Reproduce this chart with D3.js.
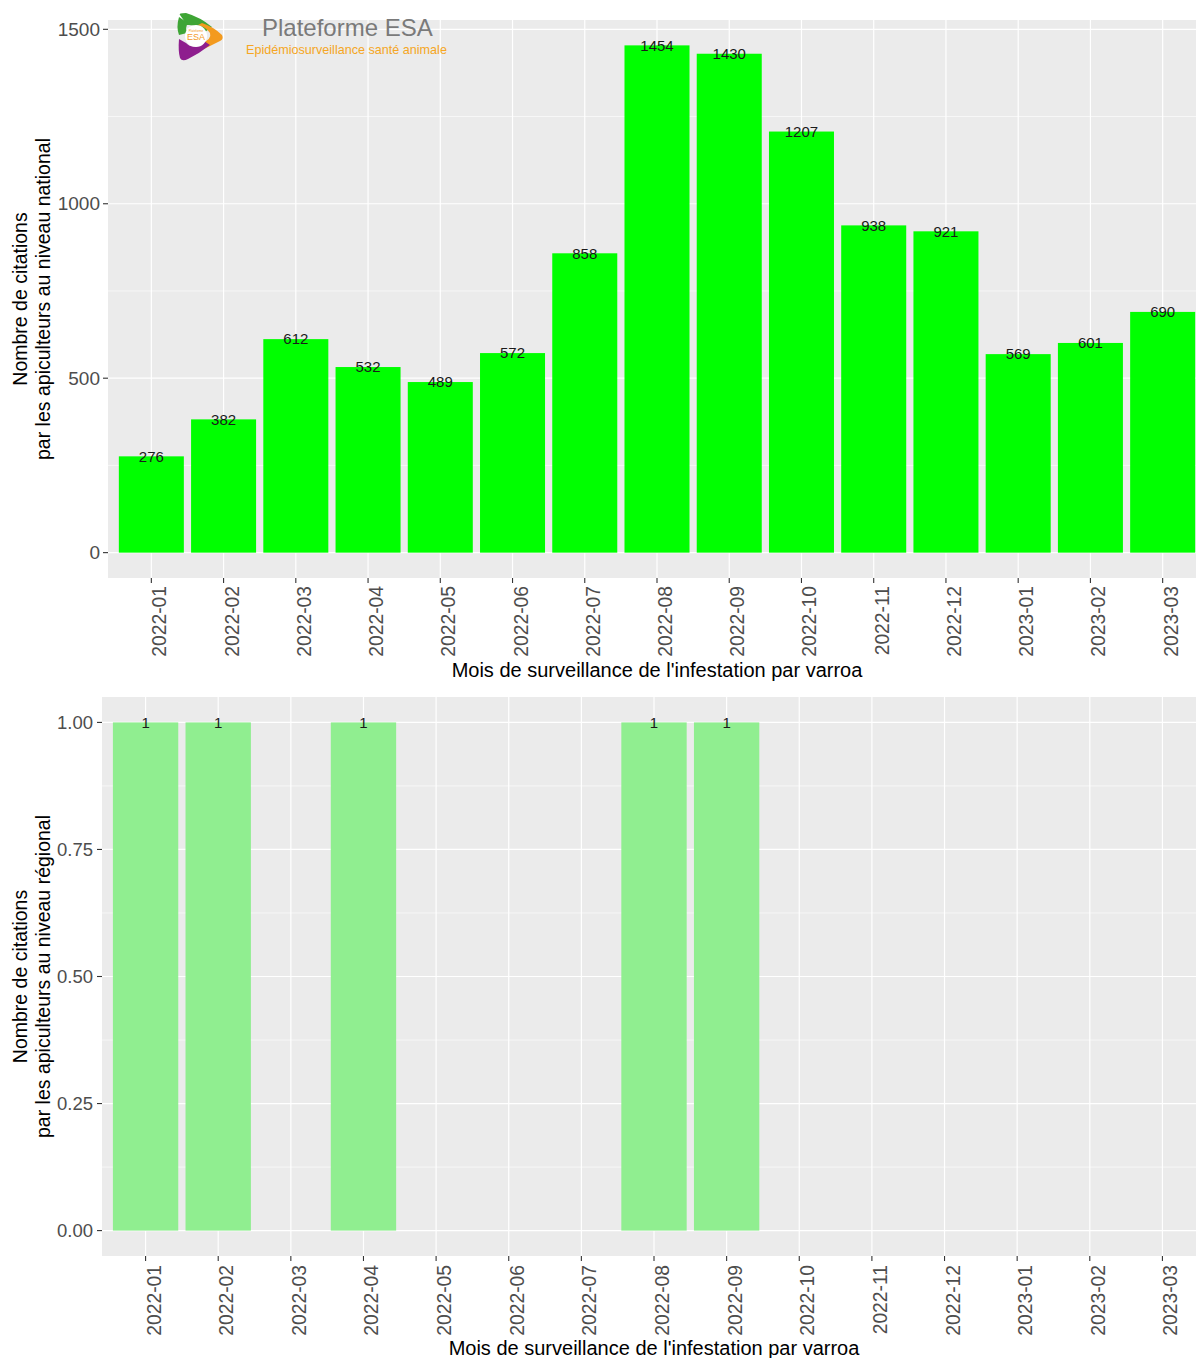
<!DOCTYPE html>
<html>
<head>
<meta charset="utf-8">
<script src="https://cdn.jsdelivr.net/npm/d3@7/dist/d3.min.js"></script>
<style>
  html, body { margin: 0; padding: 0; background: #fff; }
  svg { display: block; }
  text { font-family: "Liberation Sans", Arial, Helvetica, sans-serif; }
</style>
</head>
<body>
<svg id="chart" width="1196" height="1358"></svg>
<script>
// ---- Data ----
const months = ["2022-01","2022-02","2022-03","2022-04","2022-05","2022-06","2022-07","2022-08","2022-09","2022-10","2022-11","2022-12","2023-01","2023-02","2023-03"];
const nationalValues = [276, 382, 612, 532, 489, 572, 858, 1454, 1430, 1207, 938, 921, 569, 601, 690];
const regionalMonths = ["2022-01","2022-02","2022-04","2022-08","2022-09"];
const regionalValues = [1, 1, 1, 1, 1];
const nationalTicks = [0, 500, 1000, 1500];
const nationalMinor = [250, 750, 1250];
const regionalTicks = [0, 0.25, 0.5, 0.75, 1];
const regionalMinor = [0.125, 0.375, 0.625, 0.875];
const xTitle = "Mois de surveillance de l'infestation par varroa";
const yTitleNational = ["Nombre de citations", "par les apiculteurs au niveau national"];
const yTitleRegional = ["Nombre de citations", "par les apiculteurs au niveau régional"];

const svg = d3.select("#chart");

function panel(opts) {
  const {left, right, top, bottom, data, domainMax, ticks, minor, fmt, color, yTitle, xTitleY, tickLabelOffset, yLabelGap, yLabelSize} = opts;
  const g = svg.append("g");
  const x = d3.scalePoint().domain(months).range([left, right]).padding(0.6);
  const step = x.step();
  const pad = domainMax * 0.05;
  const y = d3.scaleLinear().domain([-pad, domainMax + pad]).range([bottom, top]);

  g.append("rect").attr("x", left).attr("y", top).attr("width", right - left).attr("height", bottom - top).attr("fill", "#EBEBEB");
  g.selectAll(".minor").data(minor).join("line")
    .attr("x1", left).attr("x2", right).attr("y1", d => y(d)).attr("y2", d => y(d))
    .attr("stroke", "#fff").attr("stroke-width", 0.6);
  g.selectAll(".majy").data(ticks).join("line")
    .attr("x1", left).attr("x2", right).attr("y1", d => y(d)).attr("y2", d => y(d))
    .attr("stroke", "#fff").attr("stroke-width", 1.2);
  g.selectAll(".majx").data(months).join("line")
    .attr("x1", d => x(d)).attr("x2", d => x(d)).attr("y1", top).attr("y2", bottom)
    .attr("stroke", "#fff").attr("stroke-width", 1.2);

  const bw = step * 0.9;
  g.selectAll(".bar").data(data).join("rect")
    .attr("x", d => x(d.m) - bw / 2).attr("width", bw)
    .attr("y", d => y(d.v)).attr("height", d => y(0) - y(d.v))
    .attr("fill", color);
  g.selectAll(".lbl").data(data).join("text")
    .attr("x", d => x(d.m)).attr("y", d => y(d.v)).attr("dy", "0.35em")
    .attr("text-anchor", "middle").attr("font-size", 15).attr("fill", "#1a1a1a")
    .text(d => d.v);

  const ya = g.append("g");
  ya.selectAll("line").data(ticks).join("line")
    .attr("x1", left - 5).attr("x2", left).attr("y1", d => y(d)).attr("y2", d => y(d))
    .attr("stroke", "#333").attr("stroke-width", 1.1);
  ya.selectAll("text").data(ticks).join("text")
    .attr("x", left - yLabelGap).attr("y", d => y(d)).attr("dy", "0.35em")
    .attr("text-anchor", "end").attr("font-size", yLabelSize).attr("fill", "#4D4D4D")
    .text(fmt);

  const xa = g.append("g");
  xa.selectAll("line").data(months).join("line")
    .attr("x1", d => x(d)).attr("x2", d => x(d)).attr("y1", bottom).attr("y2", bottom + 5)
    .attr("stroke", "#333").attr("stroke-width", 1.1);
  xa.selectAll("text").data(months).join("text")
    .attr("transform", d => `translate(${x(d) + 15},${bottom + tickLabelOffset}) rotate(-90)`)
    .attr("text-anchor", "end").attr("font-size", 19.3).attr("fill", "#4D4D4D")
    .text(d => d);

  g.append("text").attr("x", (left + 1206) / 2).attr("y", xTitleY)
    .attr("text-anchor", "middle").attr("font-size", 20).attr("fill", "#000").text(xTitle);
  const cy = (top + bottom) / 2;
  yTitle.forEach((t, i) => {
    g.append("text").attr("transform", `translate(${27 + i * 23},${cy}) rotate(-90)`)
      .attr("text-anchor", "middle").attr("font-size", 19.5).attr("fill", "#000").text(t);
  });
}

panel({
  left: 108, right: 1206, top: 20, bottom: 578,
  data: months.map((m, i) => ({m, v: nationalValues[i]})),
  domainMax: 1454,
  ticks: nationalTicks, minor: nationalMinor, fmt: d => d,
  color: "#00FF00", yTitle: yTitleNational, xTitleY: 677, tickLabelOffset: 8, yLabelGap: 8, yLabelSize: 19
});

panel({
  left: 102, right: 1206, top: 697, bottom: 1256,
  data: regionalMonths.map((m, i) => ({m, v: regionalValues[i]})),
  domainMax: 1,
  ticks: regionalTicks, minor: regionalMinor, fmt: d => d.toFixed(2),
  color: "#90EE90", yTitle: yTitleRegional, xTitleY: 1355, tickLabelOffset: 9, yLabelGap: 9, yLabelSize: 18.5
});

// ---- Logo ----
const logo = svg.append("g").attr("transform", "translate(200,37)");
logo.append("path").attr("d", "M -20,-22 Q -22,-24 -14,-24 Q 0,-20 12,-10 L 5,-5 Q -4,-13 -13,-12 Z").attr("fill", "#3EA535");
logo.append("path").attr("d", "M -21,-20 Q -24,-10 -21,-2 L -13,-4 Q -15,-10 -12,-14 Z").attr("fill", "#3EA535");
logo.append("path").attr("d", "M 2,-14 Q 14,-10 22,-2 Q 24,2 20,4 Q 12,8 4,12 L 2,6 Q 12,2 10,-4 Q 6,-10 -2,-12 Z").attr("fill", "#F39A1E");
logo.append("path").attr("d", "M -21,2 Q -22,14 -20,21 Q -18,25 -12,22 Q 0,16 10,8 L 4,4 Q -6,14 -14,6 Z").attr("fill", "#8E1E8E");
logo.append("circle").attr("cx", -4).attr("cy", -1).attr("r", 11).attr("fill", "#fff");
logo.append("text").attr("x", -4).attr("y", 3).attr("text-anchor", "middle").attr("font-size", 9).attr("fill", "#F39A1E").text("ESA");
logo.append("text").attr("x", -4).attr("y", -5).attr("text-anchor", "middle").attr("font-size", 3).attr("fill", "#F39A1E").text("Plateforme");

svg.append("text").attr("x", 262).attr("y", 36).attr("font-size", 24).attr("fill", "#7A7A7A").text("Plateforme ESA");
svg.append("text").attr("x", 246).attr("y", 54).attr("font-size", 12.6).attr("fill", "#F5A623").text("Epidémiosurveillance santé animale");
</script>
</body>
</html>
